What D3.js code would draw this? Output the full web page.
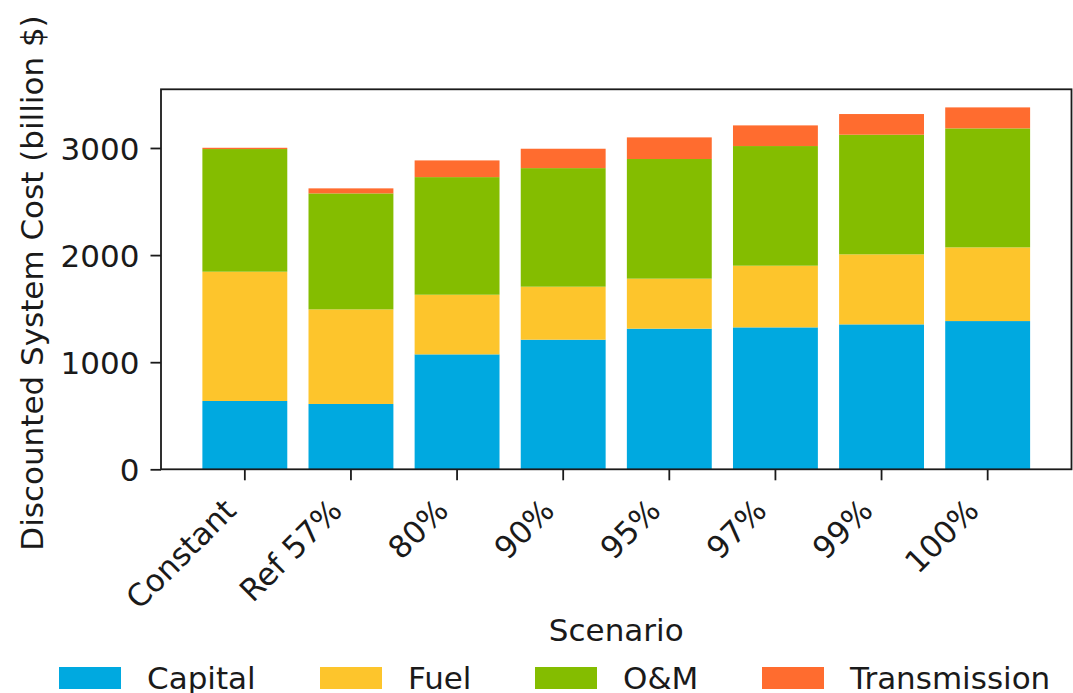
<!DOCTYPE html>
<html>
<head>
<meta charset="utf-8">
<script src="https://cdn.jsdelivr.net/npm/d3@7"></script>
<style>
  html, body { margin: 0; padding: 0; background: #fff; }
  svg { display: block; font-family: "DejaVu Sans", sans-serif; }
</style>
</head>
<body>
<svg id="chart" width="1073" height="693"></svg>
<script>
// Discounted system cost by scenario, billion $
const scenarios = ["Constant", "Ref 57%", "80%", "90%", "95%", "97%", "99%", "100%"];
const capital = [638, 610, 1073, 1210, 1313, 1325, 1353, 1384];
const fuel = [1207, 883, 557, 495, 467, 576, 654, 688];
const om = [1145, 1083, 1098, 1107, 1117, 1117, 1117, 1111];
const transmission = [12, 47, 156, 181, 202, 193, 193, 196];
const seriesNames = ["Capital", "Fuel", "O&M", "Transmission"];
const seriesColors = ["#00a9e0", "#fdc52c", "#84bd00", "#ff6c2f"];
const yTicks = [0, 1000, 2000, 3000];

const svg = d3.select("#chart");
const plot = { left: 161, right: 1071.5, top: 89.3, bottom: 469.3 };
const fontSize = 31;

// rows for the stack layout
const rows = scenarios.map((s, i) => ({
  scenario: s,
  "Capital": capital[i],
  "Fuel": fuel[i],
  "O&M": om[i],
  "Transmission": transmission[i]
}));
const stacked = d3.stack().keys(seriesNames)(rows);
const totalMax = d3.max(rows, r => seriesNames.reduce((a, k) => a + r[k], 0));

const x = d3.scaleBand()
  .domain(scenarios)
  .range([plot.left, plot.right])
  .paddingInner(0.2)
  .paddingOuter(0.39);

const y = d3.scaleLinear()
  .domain([0, totalMax * 1.05])
  .range([plot.bottom, plot.top]);

const color = d3.scaleOrdinal().domain(seriesNames).range(seriesColors);

// stacked bars
svg.append("g")
  .selectAll("g")
  .data(stacked)
  .join("g")
  .attr("fill", d => color(d.key))
  .selectAll("rect")
  .data(d => d)
  .join("rect")
  .attr("x", d => x(d.data.scenario))
  .attr("width", x.bandwidth())
  .attr("y", d => y(d[1]))
  .attr("height", d => y(d[0]) - y(d[1]));

// frame
svg.append("rect")
  .attr("x", plot.left)
  .attr("y", plot.top)
  .attr("width", plot.right - plot.left)
  .attr("height", plot.bottom - plot.top)
  .attr("fill", "none")
  .attr("stroke", "#1a1a1a")
  .attr("stroke-width", 1.8);

// y axis
const yAxis = svg.append("g")
  .attr("transform", `translate(${plot.left},0)`)
  .call(d3.axisLeft(y).tickValues(yTicks).tickSize(10.5).tickPadding(11).tickFormat(d3.format("d")));
yAxis.select(".domain").remove();
yAxis.selectAll(".tick line").attr("stroke", "#1a1a1a").attr("stroke-width", 1.8);
yAxis.selectAll(".tick text")
  .attr("font-size", fontSize)
  .attr("font-family", "DejaVu Sans")
  .attr("fill", "#1a1a1a")
  .attr("dy", "0.36em");

// x axis
const xAxis = svg.append("g")
  .attr("transform", `translate(0,${plot.bottom})`)
  .call(d3.axisBottom(x).tickSize(11).tickPadding(0));
xAxis.select(".domain").remove();
xAxis.selectAll(".tick line").attr("stroke", "#1a1a1a").attr("stroke-width", 1.8);
xAxis.selectAll(".tick text")
  .attr("font-size", fontSize)
  .attr("font-family", "DejaVu Sans")
  .attr("fill", "#1a1a1a")
  .attr("text-anchor", "end")
  .attr("dy", null)
  .attr("y", null)
  .attr("transform", "translate(-7,43) rotate(-45)");

// axis titles
svg.append("text")
  .attr("transform", `translate(43,283) rotate(-90)`)
  .attr("text-anchor", "middle")
  .attr("font-size", fontSize)
  .attr("fill", "#1a1a1a")
  .text("Discounted System Cost (billion $)");

svg.append("text")
  .attr("x", (plot.left + plot.right) / 2)
  .attr("y", 641)
  .attr("text-anchor", "middle")
  .attr("font-size", fontSize)
  .attr("fill", "#1a1a1a")
  .text("Scenario");

// legend
const legendX = [59, 320, 535, 762];
const legend = svg.append("g")
  .selectAll("g")
  .data(seriesNames)
  .join("g")
  .attr("transform", (d, i) => `translate(${legendX[i]},667)`);
legend.append("rect")
  .attr("width", 62)
  .attr("height", 22)
  .attr("fill", d => color(d));
legend.append("text")
  .attr("x", 88)
  .attr("y", 22)
  .attr("font-size", fontSize)
  .attr("fill", "#1a1a1a")
  .text(d => d);
</script>
</body>
</html>
